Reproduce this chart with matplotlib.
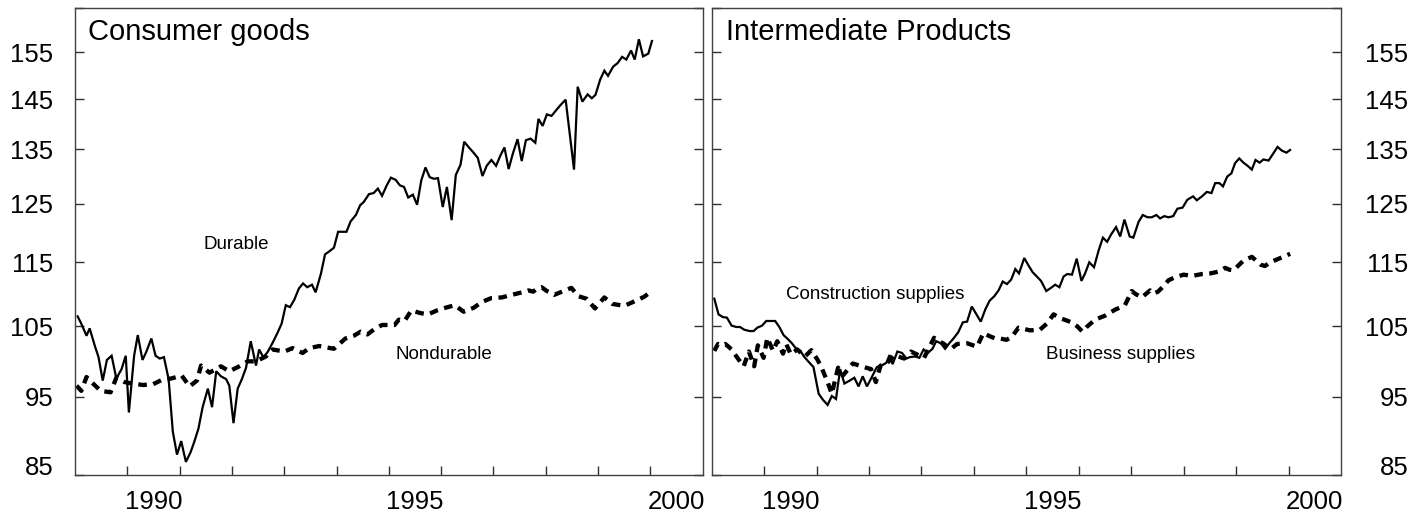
import matplotlib
matplotlib.use("Agg")
import matplotlib.pyplot as plt
from matplotlib.ticker import FixedLocator, FixedFormatter, NullLocator, NullFormatter
from matplotlib.transforms import blended_transform_factory, offset_copy

plt.rcParams['font.family'] = ['Liberation Sans', 'DejaVu Sans']

# ---------------- data ----------------
dur_years = [1989.05,1989.12,1989.22,1989.28,1989.38,1989.45,1989.53,1989.61,1989.70,1989.79,1989.89,1989.97,
             1990.03,1990.13,1990.20,1990.29,1990.36,1990.46,1990.54,1990.62,1990.70,1990.79,1990.87,1990.95,
             1991.03,1991.12,1991.21,1991.28,1991.36,1991.44,1991.54,1991.62,1991.70,1991.79,1991.89,1991.95,
             1992.03,1992.11,1992.19,1992.27,1992.36,1992.46,1992.52,1992.60,1992.68,1992.78,1992.87,1992.95,
             1993.03,1993.11,1993.19,1993.28,1993.36,1993.44,1993.53,1993.60,1993.70,1993.78,1993.86,1993.95,
             1994.03,1994.11,1994.19,1994.27,1994.37,1994.45,1994.52,1994.62,1994.71,1994.79,1994.87,1994.96,
             1995.04,1995.13,1995.21,1995.29,1995.37,1995.46,1995.54,1995.62,1995.70,1995.78,1995.86,1995.94,
             1996.03,1996.11,1996.20,1996.28,1996.37,1996.44,1996.53,1996.61,1996.70,1996.79,1996.87,1996.96,
             1997.05,1997.13,1997.21,1997.29,1997.37,1997.46,1997.54,1997.62,1997.71,1997.80,1997.86,1997.94,
             1998.02,1998.11,1998.21,1998.29,1998.38,1998.54,1998.61,1998.70,1998.80,1998.88,1998.95,
             1999.04,1999.12,1999.19,1999.29,1999.37,1999.46,1999.54,1999.63,1999.70,1999.78,1999.86,1999.96,2000.03]
dur_vals = [106.5,105.4,103.6,104.7,102.1,100.5,97.2,100.1,100.7,97.5,98.8,100.7,
            92.9,100.7,103.7,100.1,101.2,103.2,100.7,100.3,100.5,97.4,90.4,87.5,
            89.2,86.6,87.8,89.1,90.8,93.6,96.1,93.6,98.5,97.8,97.4,96.5,
            91.5,96.1,97.4,99.0,102.8,99.3,101.6,100.5,101.2,102.6,104.0,105.4,
            108.2,107.9,109.0,110.8,111.6,111.0,111.4,110.2,113.1,116.3,116.8,117.4,
            120.1,120.1,120.1,121.9,123.0,124.7,125.3,126.7,126.9,127.7,126.4,128.3,
            129.7,129.3,128.3,128.0,126.1,126.6,124.8,129.2,131.6,129.8,129.5,129.6,
            124.4,128.0,122.1,130.2,132.1,136.5,135.4,134.5,133.4,130.0,131.9,133.0,
            131.9,133.8,135.4,131.3,134.2,137.0,132.8,136.8,137.1,136.3,141.0,139.6,
            141.9,141.6,142.9,143.9,144.9,131.2,147.6,144.5,146.0,145.2,145.9,
            149.1,151.0,149.9,151.9,152.6,154.0,153.4,155.4,153.4,157.9,154.1,154.7,157.5]

nd_years = [1989.03,1989.12,1989.22,1989.33,1989.49,1989.68,1989.79,1989.95,1990.09,1990.30,1990.49,1990.66,
            1990.84,1991.04,1991.19,1991.33,1991.41,1991.57,1991.79,1991.95,1992.14,1992.30,1992.46,1992.65,
            1992.78,1993.00,1993.16,1993.35,1993.48,1993.67,1993.95,1994.17,1994.33,1994.46,1994.59,1994.71,
            1994.87,1995.11,1995.19,1995.30,1995.43,1995.60,1995.75,1995.92,1996.08,1996.26,1996.43,1996.62,
            1996.78,1996.96,1997.16,1997.35,1997.55,1997.67,1997.76,1997.83,1997.92,1998.02,1998.16,1998.34,
            1998.49,1998.62,1998.78,1998.94,1999.12,1999.27,1999.50,1999.67,1999.88,2000.03]
nd_vals = [96.5,95.8,97.7,96.9,95.8,95.6,97.6,97.0,96.8,96.6,96.7,97.3,
           97.5,97.9,96.4,97.2,99.3,98.3,99.2,98.5,99.2,99.9,99.9,100.6,
           101.6,101.3,101.8,101.1,101.8,102.1,101.7,103.2,103.6,104.2,103.8,104.5,
           105.2,105.2,106.0,105.8,107.4,107.0,106.8,107.4,107.8,108.2,107.2,107.8,
           108.7,109.3,109.4,109.8,110.2,110.5,110.3,110.8,111.0,110.4,109.8,110.4,
           110.9,109.6,109.2,107.7,109.4,108.4,108.1,108.7,109.5,110.4]

con_years = [1989.05,1989.13,1989.21,1989.29,1989.38,1989.47,1989.54,1989.62,1989.72,1989.80,1989.87,1989.96,
             1990.04,1990.11,1990.21,1990.29,1990.37,1990.44,1990.53,1990.60,1990.69,1990.76,1990.84,1990.94,
             1991.04,1991.12,1991.21,1991.29,1991.37,1991.45,1991.53,1991.63,1991.72,1991.80,1991.88,1991.96,
             1992.04,1992.15,1992.24,1992.33,1992.39,1992.45,1992.54,1992.63,1992.71,1992.78,1992.88,1992.96,
             1993.04,1993.12,1993.21,1993.28,1993.37,1993.45,1993.53,1993.61,1993.70,1993.79,1993.87,1993.96,
             1994.04,1994.13,1994.22,1994.30,1994.39,1994.47,1994.55,1994.63,1994.71,1994.79,1994.86,1994.96,
             1995.04,1995.12,1995.20,1995.28,1995.38,1995.47,1995.55,1995.63,1995.71,1995.78,1995.87,1995.96,
             1996.05,1996.12,1996.20,1996.29,1996.38,1996.46,1996.54,1996.62,1996.71,1996.79,1996.87,1996.97,
             1997.04,1997.14,1997.22,1997.31,1997.39,1997.48,1997.55,1997.63,1997.71,1997.80,1997.88,1997.98,
             1998.07,1998.18,1998.25,1998.35,1998.44,1998.53,1998.60,1998.68,1998.75,1998.83,1998.91,1998.98,
             1999.06,1999.14,1999.22,1999.30,1999.37,1999.45,1999.52,1999.62,1999.70,1999.79,1999.87,1999.96,2000.03]
con_vals = [109.2,106.8,106.4,106.3,105.1,104.9,104.9,104.5,104.3,104.3,104.8,105.1,
            105.8,105.8,105.8,104.9,103.7,103.2,102.5,101.8,101.4,100.6,99.9,99.1,
            95.4,94.6,93.9,95.1,94.7,98.8,96.8,97.2,97.6,96.4,97.8,96.4,
            97.5,99.1,99.3,99.7,100.8,99.5,101.3,101.1,100.3,100.5,100.6,100.4,
            101.6,101.1,101.7,102.8,102.5,101.7,102.5,103.2,104.1,105.6,105.7,108.0,
            106.9,105.7,107.6,108.9,109.6,110.5,111.9,111.5,112.2,113.9,113.2,115.7,
            114.5,113.4,112.7,112.0,110.4,110.9,111.4,111.0,112.7,113.1,113.0,115.6,
            112.0,113.2,115.0,114.2,117.0,119.1,118.4,119.7,120.9,119.3,122.2,119.3,
            119.1,121.8,123.0,122.6,122.6,123.0,122.4,122.8,122.6,122.8,124.1,124.3,
            125.7,126.3,125.6,126.3,127.1,126.9,128.7,128.7,128.1,129.9,130.5,132.4,
            133.3,132.5,131.9,131.2,133.0,132.5,133.1,132.9,134.1,135.5,134.8,134.4,134.9]

bus_years = [1989.05,1989.12,1989.20,1989.26,1989.38,1989.50,1989.61,1989.71,1989.81,1989.88,1989.99,
             1990.06,1990.17,1990.25,1990.36,1990.42,1990.51,1990.63,1990.78,1990.90,
             1991.02,1991.09,1991.21,1991.29,1991.41,1991.50,1991.69,1991.90,
             1992.04,1992.13,1992.22,1992.33,1992.48,1992.67,1992.80,1992.94,
             1993.05,1993.24,1993.34,1993.43,1993.55,1993.68,1993.87,
             1994.06,1994.18,1994.31,1994.41,1994.50,1994.62,1994.72,1994.85,1994.96,
             1995.07,1995.26,1995.39,1995.52,1995.65,1995.76,1995.86,1995.97,
             1996.07,1996.15,1996.31,1996.50,1996.69,1996.88,
             1997.01,1997.09,1997.20,1997.36,1997.43,1997.51,1997.62,1997.71,1997.84,
             1998.00,1998.16,1998.35,1998.51,1998.67,1998.79,1998.87,1998.95,
             1999.13,1999.30,1999.47,1999.55,1999.65,1999.87,2000.03]
bus_vals = [101.4,102.4,102.2,102.4,101.6,100.3,99.2,101.3,99.2,102.2,100.4,
            103.3,101.4,102.8,101.0,102.4,100.9,101.6,100.6,101.5,
            100.1,99.1,97.0,95.4,99.0,97.9,99.6,99.1,
            98.8,97.0,99.3,99.5,100.8,100.3,101.3,100.8,
            100.4,103.3,102.8,102.4,101.6,102.4,102.5,
            102.0,104.0,103.5,103.2,103.2,103.0,103.4,104.8,104.6,
            104.4,104.5,105.4,106.8,106.2,105.9,105.6,105.0,
            104.2,104.9,106.0,106.6,107.5,108.2,
            110.4,109.9,109.4,110.5,110.0,110.3,111.2,112.1,112.6,
            113.0,112.8,113.1,113.2,113.5,114.1,113.8,113.7,
            115.2,115.9,114.6,114.4,115.0,115.8,116.4]

y_ticks = [85, 95, 105, 115, 125, 135, 145, 155, 165]
y_labels = ['', '95', '105', '115', '125', '135', '145', '155', '']
y_bottom_label = '85'
x_ticks = list(range(1990, 2001))
x_label_pos = [1990.5, 1995.5, 2000.5]
x_labels = ['1990', '1995', '2000']

# ---------------- figure ----------------
W, H = 1424, 521
fig = plt.figure(figsize=(W / 100, H / 100), dpi=100)
ax1 = fig.add_axes([75 / W, 1 - 475 / H, 627.7 / W, 466.7 / H])
ax2 = fig.add_axes([711.7 / W, 1 - 475 / H, 629.3 / W, 466.7 / H])

dash = (0, (2.0, 1.5))

ax1.plot(dur_years, dur_vals, color='black', lw=1.6, solid_joinstyle='miter')
ax1.plot(nd_years, nd_vals, color='black', lw=3.1, linestyle=dash, dash_capstyle='butt')
ax2.plot(con_years, con_vals, color='black', lw=1.6, solid_joinstyle='miter')
ax2.plot(bus_years, bus_vals, color='black', lw=3.1, linestyle=dash, dash_capstyle='butt')

LBL = 18.5
for ax in (ax1, ax2):
    ax.set_yscale('log')
    ax.set_ylim(85, 165)
    ax.set_xlim(1989, 2001)
    ax.yaxis.set_major_locator(FixedLocator(y_ticks))
    ax.yaxis.set_major_formatter(FixedFormatter(y_labels))
    ax.yaxis.set_minor_locator(NullLocator())
    ax.xaxis.set_major_locator(FixedLocator(x_ticks))
    ax.xaxis.set_major_formatter(NullFormatter())
    ax.xaxis.set_minor_locator(FixedLocator(x_label_pos))
    ax.xaxis.set_minor_formatter(FixedFormatter(x_labels))
    ax.tick_params(axis='x', which='major', direction='in', length=6.5, width=1,
                   bottom=True, top=False, color='#303030')
    ax.tick_params(axis='x', which='minor', length=0, pad=11, labelsize=LBL)
    ax.tick_params(axis='y', which='major', direction='in', length=6.5, width=1,
                   left=True, right=True, labelsize=LBL, color='#303030')
    for s in ax.spines.values():
        s.set_color('#404040')
        s.set_linewidth(1.0)

ax1.tick_params(axis='y', labelleft=True, labelright=False, pad=15.6)
ax2.tick_params(axis='y', labelleft=False, labelright=True, pad=48.5)
for t in ax2.yaxis.get_major_ticks():
    t.label2.set_horizontalalignment('right')

# bottom "85" labels sit on the baseline of the axis floor
tr1 = offset_copy(blended_transform_factory(ax1.transAxes, ax1.transData), fig=fig, x=-15.6, y=0, units='points')
ax1.text(0, y_ticks[0], y_bottom_label, transform=tr1, fontsize=LBL, ha='right', va='baseline')
tr2 = offset_copy(blended_transform_factory(ax2.transAxes, ax2.transData), fig=fig, x=48.5, y=0, units='points')
ax2.text(1, y_ticks[0], y_bottom_label, transform=tr2, fontsize=LBL, ha='right', va='baseline')

ax1.text(0.0207, 0.932, 'Consumer goods', transform=ax1.transAxes, fontsize=21, va='baseline')
ax2.text(0.0227, 0.932, 'Intermediate Products', transform=ax2.transAxes, fontsize=21, va='baseline')

ax1.text(1992.08, 117.2, 'Durable', fontsize=13.5, ha='center', va='baseline')
ax1.text(1996.06, 100.3, 'Nondurable', fontsize=13.5, ha='center', va='baseline')
ax2.text(1992.11, 109.2, 'Construction supplies', fontsize=13.5, ha='center', va='baseline')
ax2.text(1996.79, 100.3, 'Business supplies', fontsize=13.5, ha='center', va='baseline')

fig.savefig('out.png', dpi=100)
